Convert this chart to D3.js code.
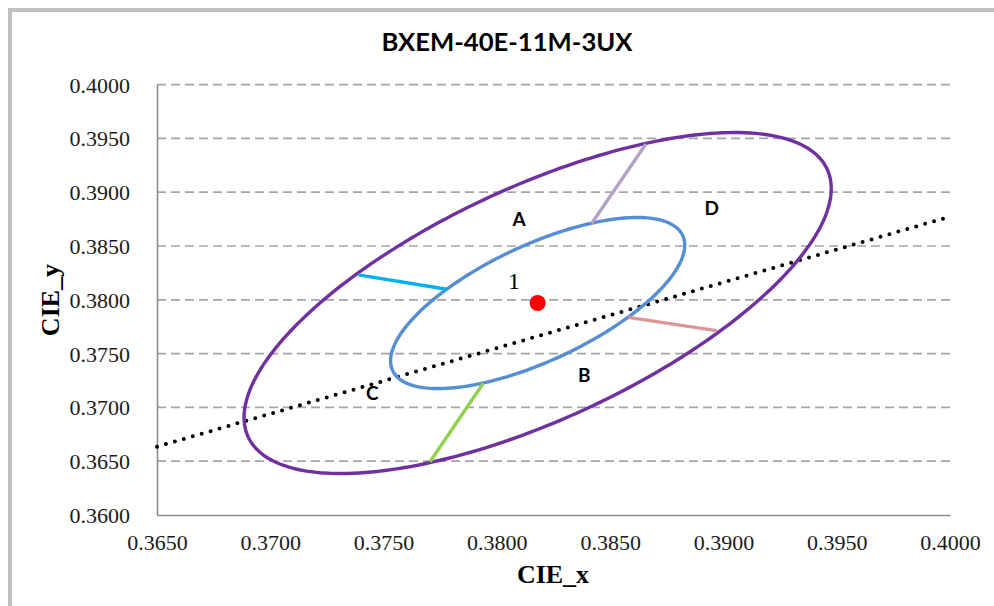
<!DOCTYPE html>
<html>
<head>
<meta charset="utf-8">
<script src="https://cdn.jsdelivr.net/npm/d3@7"></script>
<style>
  html, body { margin: 0; padding: 0; background: #fff; }
  svg { display: block; }
</style>
</head>
<body>
<svg id="chart" width="994" height="606"></svg>
<script>
// ---- data (CIE 1931 x,y) ----
const chartTitle = "BXEM-40E-11M-3UX";
const xTicks = [0.365, 0.370, 0.375, 0.380, 0.385, 0.390, 0.395, 0.400];
const yTicks = [0.360, 0.365, 0.370, 0.375, 0.380, 0.385, 0.390, 0.395, 0.400];

// target chromaticity point "1"
const centerPoint = [0.3818, 0.3797];

// ellipses around the target: semi-major, semi-minor, rotation (deg, in x-y space)
const ellipseNames = ["inner", "outer"];
const ellipseSemiMajor = [0.00944, 0.0188];
const ellipseSemiMinor = [0.00403, 0.0081];
const ellipseAngle = [53.4, 53.4];

// dividing segments between the two ellipses: [x1, y1, x2, y2]
const segmentNames = ["AC", "AD", "BD", "BC"];
const segmentCoords = [
  [0.37389, 0.38231, 0.37779, 0.38098],
  [0.38658, 0.39448, 0.38419, 0.38711],
  [0.38580, 0.37837, 0.38970, 0.37713],
  [0.37940, 0.37224, 0.37705, 0.36495]
];

// dotted reference line
const refLineX = [0.3650, 0.3999];
const refLineY = [0.36635, 0.38767];

// region labels
const regionLabels = ["A", "B", "C", "D"];
const regionLabelX = [0.38098, 0.38386, 0.37450, 0.38948];
const regionLabelY = [0.38748, 0.37301, 0.37131, 0.38850];
const pointLabel = "1";
const pointLabelPos = [0.38076, 0.38178];

// ---- styles ----
const ellipseColors = { inner: "#558ed5", outer: "#7030a0" };
const segmentColors = { AC: "#00b0f0", AD: "#b3a2c7", BD: "#d99694", BC: "#92d050" };

const svg = d3.select("#chart");

// outer chart frame
svg.append("rect")
  .attr("x", 10).attr("y", 10)
  .attr("width", 1000).attr("height", 700)
  .attr("fill", "#fff")
  .attr("stroke", "#c0c0c0").attr("stroke-width", 4);

const x = d3.scaleLinear().domain([0.365, 0.400]).range([157, 950]);
const y = d3.scaleLinear().domain([0.360, 0.400]).range([515, 84.6]);

// title
svg.append("text")
  .attr("x", 507).attr("y", 51)
  .attr("text-anchor", "middle")
  .attr("font-family", "Lato, 'Open Sans', sans-serif")
  .attr("font-weight", "bold")
  .attr("font-size", 24)
  .attr("textLength", 251)
  .attr("lengthAdjust", "spacingAndGlyphs")
  .attr("fill", "#000")
  .text(chartTitle);

// horizontal dashed gridlines
svg.append("g")
  .selectAll("line")
  .data(yTicks.slice(1))
  .join("line")
  .attr("x1", x(0.365)).attr("x2", x(0.400))
  .attr("y1", d => y(d)).attr("y2", d => y(d))
  .attr("stroke", "#a6a6a6")
  .attr("stroke-width", 1.7)
  .attr("stroke-dasharray", "9,5");

// axes
const xAxis = d3.axisBottom(x).tickValues(xTicks).tickFormat(d3.format(".4f")).tickSize(0).tickPadding(0);
const yAxis = d3.axisLeft(y).tickValues(yTicks).tickFormat(d3.format(".4f")).tickSize(0).tickPadding(0);

const gx = svg.append("g").attr("transform", `translate(0,${y(0.36)})`).call(xAxis);
gx.select(".domain").attr("stroke", "#8c8c8c").attr("stroke-width", 1.6);
gx.selectAll("text")
  .attr("font-family", "'Liberation Serif', 'Times New Roman', serif")
  .attr("font-size", 22).attr("fill", "#1a1a1a")
  .attr("dy", null).attr("y", 35);

const gy = svg.append("g").attr("transform", `translate(${x(0.365)},0)`).call(yAxis);
gy.select(".domain").attr("stroke", "#8c8c8c").attr("stroke-width", 1.6);
gy.selectAll("text")
  .attr("font-family", "'Liberation Serif', 'Times New Roman', serif")
  .attr("font-size", 22).attr("fill", "#1a1a1a")
  .attr("dy", null).attr("x", -27).attr("y", 7.5);

// axis titles
svg.append("text")
  .attr("x", 553).attr("y", 583)
  .attr("text-anchor", "middle")
  .attr("font-family", "'Liberation Serif', 'Times New Roman', serif")
  .attr("font-weight", "bold").attr("font-size", 26)
  .text("CIE_x");

svg.append("text")
  .attr("transform", "translate(59,300) rotate(-90)")
  .attr("text-anchor", "middle")
  .attr("font-family", "'Liberation Serif', 'Times New Roman', serif")
  .attr("font-weight", "bold").attr("font-size", 26)
  .text("CIE_y");

// plot layer
const plot = svg.append("g");

// dotted reference line
plot.append("line")
  .attr("x1", x(refLineX[0])).attr("y1", y(refLineY[0]))
  .attr("x2", x(refLineX[1])).attr("y2", y(refLineY[1]))
  .attr("stroke", "#000")
  .attr("stroke-width", 4)
  .attr("stroke-linecap", "round")
  .attr("stroke-dasharray", "0,9.3");

// ellipses traced in chromaticity space
function ellipsePoints(cx, cy, a, b, deg) {
  const th = deg * Math.PI / 180;
  const pts = [];
  const n = 240;
  for (let i = 0; i < n; i++) {
    const t = 2 * Math.PI * i / n;
    const ex = a * Math.cos(t), ey = b * Math.sin(t);
    pts.push([cx + ex * Math.cos(th) - ey * Math.sin(th),
              cy + ex * Math.sin(th) + ey * Math.cos(th)]);
  }
  return pts;
}
const ellLine = d3.line().x(d => x(d[0])).y(d => y(d[1])).curve(d3.curveLinearClosed);

ellipseNames.forEach((name, i) => {
  plot.append("path")
    .attr("d", ellLine(ellipsePoints(centerPoint[0], centerPoint[1],
      ellipseSemiMajor[i], ellipseSemiMinor[i], ellipseAngle[i])))
    .attr("fill", "none")
    .attr("stroke", ellipseColors[name])
    .attr("stroke-width", 3.4);
});

// dividing segments
plot.selectAll("line.seg")
  .data(segmentCoords)
  .join("line")
  .attr("class", "seg")
  .attr("x1", d => x(d[0])).attr("y1", d => y(d[1]))
  .attr("x2", d => x(d[2])).attr("y2", d => y(d[3]))
  .attr("stroke", (d, i) => segmentColors[segmentNames[i]])
  .attr("stroke-width", 3.4);

// target point
plot.append("circle")
  .attr("cx", x(centerPoint[0])).attr("cy", y(centerPoint[1]))
  .attr("r", 8)
  .attr("fill", "#ff0000");

// region labels
plot.selectAll("text.region")
  .data(regionLabels)
  .join("text")
  .attr("class", "region")
  .attr("x", (d, i) => x(regionLabelX[i]))
  .attr("y", (d, i) => y(regionLabelY[i]))
  .attr("dy", "0.36em")
  .attr("text-anchor", "middle")
  .attr("font-family", "Lato, 'Open Sans', sans-serif")
  .attr("font-weight", "bold")
  .attr("font-size", 19)
  .text(d => d);

plot.append("text")
  .attr("x", x(pointLabelPos[0])).attr("y", y(pointLabelPos[1]))
  .attr("dy", "0.34em")
  .attr("text-anchor", "middle")
  .attr("font-family", "'Liberation Serif', 'Times New Roman', serif")
  .attr("font-size", 24)
  .text(pointLabel);
</script>
</body>
</html>
